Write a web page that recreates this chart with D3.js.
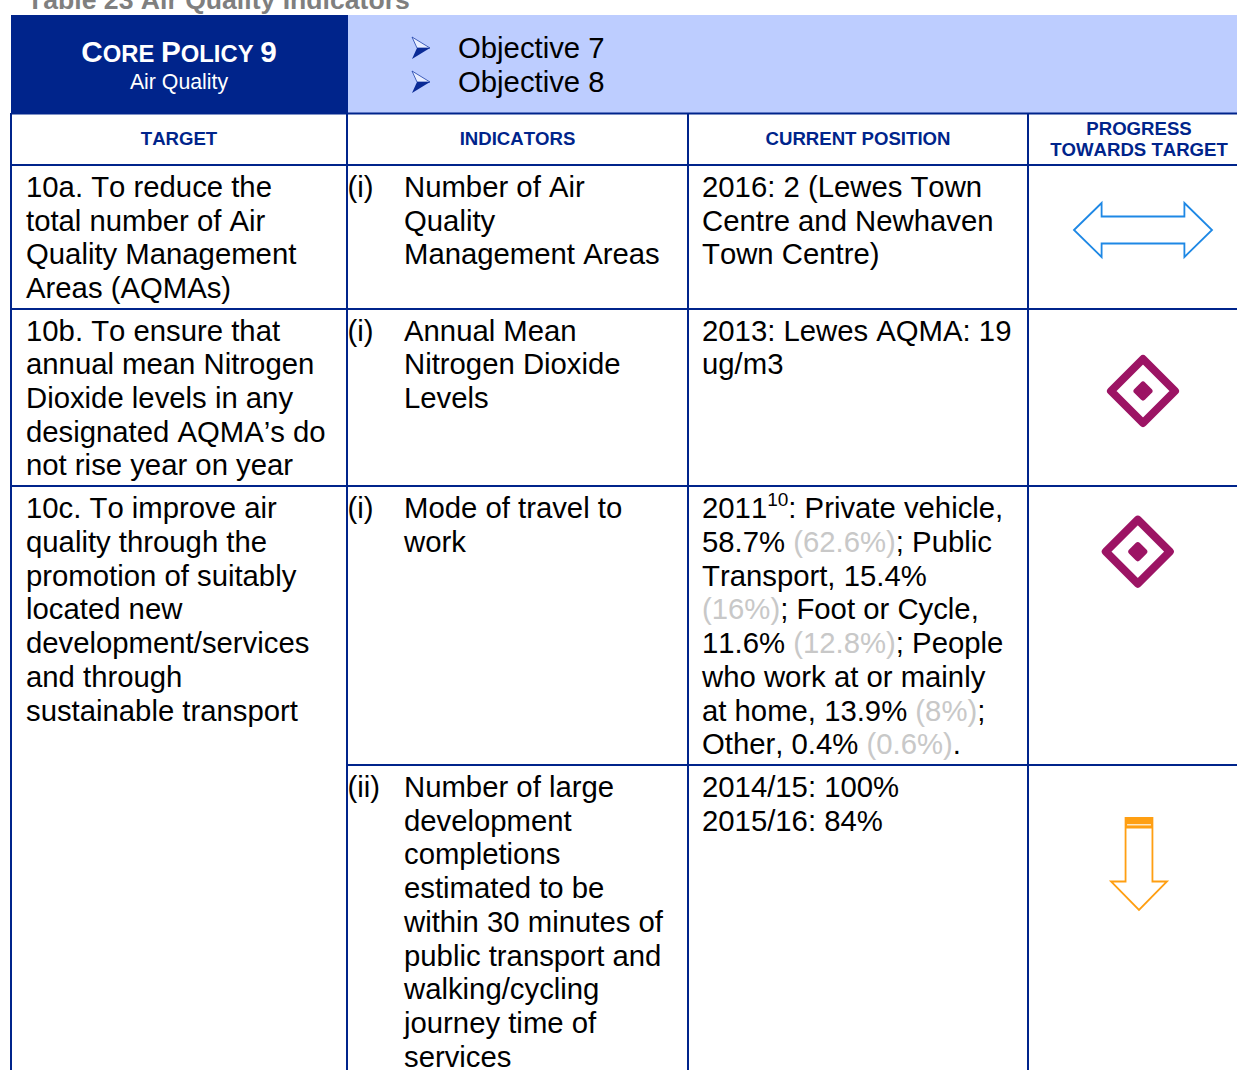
<!DOCTYPE html>
<html>
<head>
<meta charset="utf-8">
<script src="https://cdnjs.cloudflare.com/ajax/libs/d3/7.8.5/d3.min.js"></script>
<style>
html, body { margin: 0; padding: 0; background: #fff; overflow: hidden; }
text { font-family: "Liberation Sans", Arial, sans-serif; font-kerning: none; }
</style>
</head>
<body>
<svg id="table" width="1237" height="1070"></svg>
<script>
const objectives = ["Objective 7", "Objective 8"];
const columnHeads = ["TARGET", "INDICATORS", "CURRENT POSITION"];
const progressHead = ["PROGRESS", "TOWARDS TARGET"];

const targets = [
    ["10a. To reduce the", "total number of Air", "Quality Management", "Areas (AQMAs)"],
    ["10b. To ensure that", "annual mean Nitrogen", "Dioxide levels in any", "designated AQMA’s do", "not rise year on year"],
    ["10c. To improve air", "quality through the", "promotion of suitably", "located new", "development/services", "and through", "sustainable transport"]
];
const indicatorNums = ["(i)", "(i)", "(i)", "(ii)"];
const indicators = [
    ["Number of Air", "Quality", "Management Areas"],
    ["Annual Mean", "Nitrogen Dioxide", "Levels"],
    ["Mode of travel to", "work"],
    ["Number of large", "development", "completions", "estimated to be", "within 30 minutes of", "public transport and", "walking/cycling", "journey time of", "services"]
];
const positions = [
    ["2016: 2 (Lewes Town", "Centre and Newhaven", "Town Centre)"],
    ["2013: Lewes AQMA: 19", "ug/m3"],
    null,
    ["2014/15: 100%", "2015/16: 84%"]
];
// ligne 2011 : morceaux noirs (k), gris (g), exposant (s)
const position2011 = [
    [["2011", "k"], ["10", "s"], [": Private vehicle,", "k"]],
    [["58.7% ", "k"], ["(62.6%)", "g"], ["; Public", "k"]],
    [["Transport, 15.4%", "k"]],
    [["(16%)", "g"], ["; Foot or Cycle,", "k"]],
    [["11.6% ", "k"], ["(12.8%)", "g"], ["; People", "k"]],
    [["who work at or mainly", "k"]],
    [["at home, 13.9% ", "k"], ["(8%)", "g"], [";", "k"]],
    [["Other, 0.4% ", "k"], ["(0.6%)", "g"], [".", "k"]]
];

const navy = "#00248b";
const paleBlue = "#bdcdff";
const lineStep = 33.72;
const bodySize = 29.3;

const svg = d3.select("#table");

const colX = [11, 347, 688, 1028, 1237];

// bandeau
svg.append("rect").attr("x", 11).attr("y", 15).attr("width", 337).attr("height", 98.5).attr("fill", navy);
svg.append("rect").attr("x", 348).attr("y", 15).attr("width", 889).attr("height", 98.5).attr("fill", paleBlue);

svg.append("text").attr("x", 27).attr("y", 9)
    .attr("font-size", 26.6).attr("font-weight", "bold").attr("fill", "#7f7f7f")
    .text("Table 23 Air Quality Indicators");

const title = svg.append("text").attr("x", 179).attr("y", 62).attr("text-anchor", "middle")
    .attr("fill", "#fff").attr("font-weight", "bold").attr("font-size", 29);
[["C", 29.7], ["ORE ", 23.8], ["P", 29.7], ["OLICY ", 23.8], ["9", 29.7]].forEach(d => {
    title.append("tspan").attr("font-size", d[1]).text(d[0]);
});
svg.append("text").attr("x", 179).attr("y", 89).attr("text-anchor", "middle")
    .attr("fill", "#fff").attr("font-size", 21.3).text("Air Quality");

// puces et objectifs
const objectiveY = d3.scalePoint().domain(objectives).range([58, 92]);
objectives.forEach(o => {
    const g = svg.append("g").attr("transform", `translate(412,${objectiveY(o) - 21})`);
    g.append("path").attr("d", d3.line()([[0, 0], [18, 11], [5, 11]]) + "Z")
        .attr("fill", "#e8edff").attr("stroke", "#1c3fa8").attr("stroke-width", 0.8);
    g.append("path").attr("d", d3.line()([[0, 22], [18, 11], [5, 11]]) + "Z")
        .attr("fill", "#0a2a96");
    svg.append("text").attr("x", 458).attr("y", objectiveY(o))
        .attr("font-size", bodySize).attr("fill", "#000").text(o);
});

// têtes de colonnes
columnHeads.forEach((h, i) => {
    svg.append("text").attr("x", (colX[i] + colX[i + 1]) / 2).attr("y", 145)
        .attr("text-anchor", "middle").attr("font-size", 18.6).attr("font-weight", "bold")
        .attr("fill", navy).text(h);
});
progressHead.forEach((h, i) => {
    svg.append("text").attr("x", 1139).attr("y", 135 + i * 21)
        .attr("text-anchor", "middle").attr("font-size", 18.6).attr("font-weight", "bold")
        .attr("fill", navy).text(h);
});

// grille
function gridLine(x1, y1, x2, y2) {
    svg.append("line").attr("x1", x1).attr("y1", y1).attr("x2", x2).attr("y2", y2)
        .attr("stroke", navy).attr("stroke-width", 2);
}
colX.slice(0, 4).forEach(x => gridLine(x, 113, x, 1070));
[113.5, 165, 309, 486].forEach(y => gridLine(11, y, 1237, y));
gridLine(347, 765, 1237, 765);

function block(lines, x, top) {
    lines.forEach((l, i) => {
        svg.append("text").attr("x", x).attr("y", top + i * lineStep)
            .attr("font-size", bodySize).attr("fill", "#000").text(l);
    });
}

const targetTop = [197, 340.6, 518.2];
const indicatorTop = [197, 340.6, 518.2, 797];
targets.forEach((t, i) => block(t, 26, targetTop[i]));
indicators.forEach((t, i) => {
    block([indicatorNums[i]], 347.4, indicatorTop[i]);
    block(t, 404, indicatorTop[i]);
});
positions.forEach((p, i) => {
    if (p) block(p, 702, indicatorTop[i]);
});
position2011.forEach((parts, i) => {
    const t = svg.append("text").attr("x", 702).attr("y", 518.2 + i * lineStep)
        .attr("font-size", bodySize).attr("fill", "#000").attr("xml:space", "preserve");
    parts.forEach((d, j) => {
        const s = t.append("tspan").text(d[0]);
        if (d[1] == "g") s.attr("fill", "#c8c8c8");
        if (d[1] == "s") s.attr("font-size", 19).attr("dy", -12);
        if (j > 0 && parts[j - 1][1] == "s") s.attr("dy", 12);
    });
});

// icônes de progression
const unit = d3.scaleLinear().domain([-1, 1]);

function doubleArrow(cx, cy, w, h) {
    const x = unit.copy().range([cx - w / 2, cx + w / 2]);
    const y = unit.copy().range([cy - h / 2, cy + h / 2]);
    const pts = [[-1, 0], [-0.6, -1], [-0.6, -0.5], [0.6, -0.5], [0.6, -1], [1, 0], [0.6, 1], [0.6, 0.5], [-0.6, 0.5], [-0.6, 1]];
    svg.append("path").attr("d", d3.line().x(d => x(d[0])).y(d => y(d[1]))(pts) + "Z")
        .attr("fill", "#fff").attr("stroke", "#1e88e5").attr("stroke-width", 1.8);
}

function diamond(cx, cy) {
    const outer = d3.line()([[0, -32], [32, 0], [0, 32], [-32, 0]]) + "Z";
    const inner = d3.line()([[0, -6.5], [6.5, 0], [0, 6.5], [-6.5, 0]]) + "Z";
    const g = svg.append("g").attr("transform", `translate(${cx},${cy})`);
    g.append("path").attr("d", outer).attr("fill", "none").attr("stroke", "#9c1464")
        .attr("stroke-width", 8).attr("stroke-linejoin", "round");
    g.append("path").attr("d", inner).attr("fill", "#9c1464").attr("stroke", "#9c1464")
        .attr("stroke-width", 6).attr("stroke-linejoin", "round");
}

function downArrow(cx, top, w, h) {
    const x = d3.scaleLinear().domain([-1, 1]).range([cx - w / 2, cx + w / 2]);
    const y = d3.scaleLinear().domain([0, 1]).range([top, top + h]);
    const pts = [[-0.48, 0], [0.48, 0], [0.48, 0.69], [1, 0.69], [0, 1], [-1, 0.69], [-0.48, 0.69]];
    svg.append("path").attr("d", d3.line().x(d => x(d[0])).y(d => y(d[1]))(pts) + "Z")
        .attr("fill", "#fff").attr("stroke", "#ff9f12").attr("stroke-width", 1.8);
    svg.append("rect").attr("x", x(-0.48)).attr("y", y(0)).attr("width", x(0.48) - x(-0.48)).attr("height", 10.5)
        .attr("fill", "#ff9f12");
    svg.append("rect").attr("x", x(-0.48) + 1.5).attr("y", y(0) + 6).attr("width", x(0.48) - x(-0.48) - 3).attr("height", 1.5)
        .attr("fill", "#ffe6bf");
}

doubleArrow(1143, 230, 138, 54);
diamond(1143, 391);
diamond(1137.8, 551.7);
downArrow(1139, 818, 56, 92);
</script>
</body>
</html>
